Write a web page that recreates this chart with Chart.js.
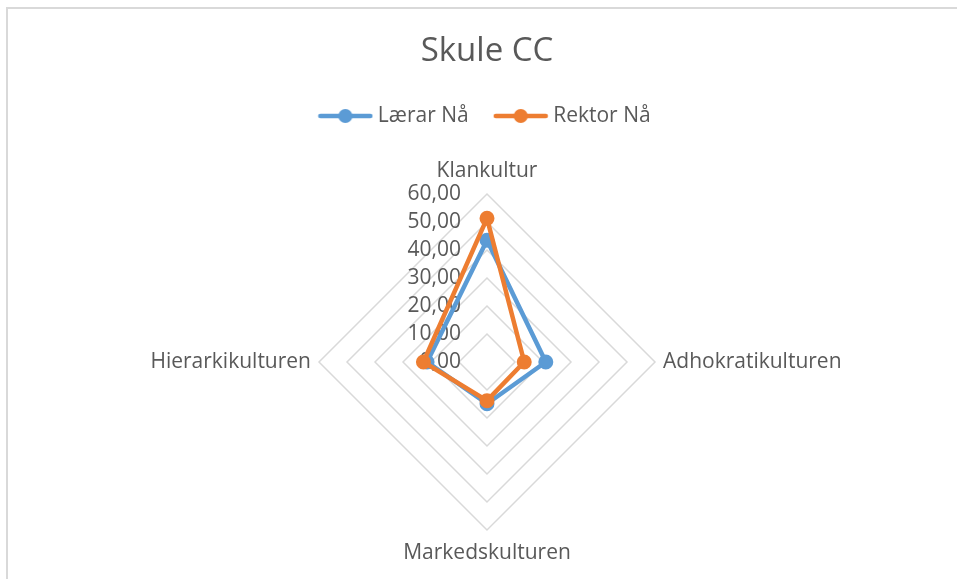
<!DOCTYPE html>
<html>
<head>
<meta charset="utf-8">
<title>Skule CC</title>
<script src="https://cdn.jsdelivr.net/npm/chart.js@4"></script>
<style>
  html, body { margin: 0; padding: 0; background: #fff; overflow: hidden; }
  .frame {
    position: absolute; left: 6px; top: 7px; width: 1000px; height: 700px;
    border-top: 2px solid #d9d9d9; border-left: 2px solid #d9d9d9;
  }
  #chart { position: absolute; left: 0; top: 0; }
</style>
</head>
<body>
<div class="frame"></div>
<canvas id="chart" width="957" height="579"></canvas>
<script>
'use strict';
// data
const categories = ['Klankultur', 'Adhokratikulturen', 'Markedskulturen', 'Hierarkikulturen'];
const laerarNa = [43.5, 21.0, 14.9, 21.4];
const rektorNa = [51.3, 13.3, 13.8, 22.7];
const tickValues = [0, 10, 20, 30, 40, 50, 60];

const textColor = '#595959';
const gridColor = '#d9d9d9';
const blue = '#5b9bd5';
const orange = '#ed7d31';
const fontFamily = '"Open Sans", Lato, sans-serif';
const labelSize = 21;
const legendHeight = 118.5; // pushes plot top down to y=191

const fmt = v => v.toFixed(2).replace('.', ',');

// line-with-dot icon for the legend, like Excel
const legendIcon = function (color) {
  const c = document.createElement('canvas');
  c.width = 56;
  c.height = 16;
  const g = c.getContext('2d');
  g.strokeStyle = color;
  g.lineWidth = 4.5;
  g.lineCap = 'round';
  g.beginPath();
  g.moveTo(3, 8);
  g.lineTo(53, 8);
  g.stroke();
  g.fillStyle = color;
  g.beginPath();
  g.arc(28, 8, 7, 0, Math.PI * 2);
  g.fill();
  return c;
};

// tick labels (incl. 0,00) and category labels drawn from the radial scale
const radarText = {
  id: 'radarText',
  beforeLayout(chart) {
    const legend = chart.legend;
    if (legend && !legend._patched) {
      const fit = legend.fit;
      legend.fit = function () {
        fit.call(this);
        this.height = legendHeight;
      };
      legend._patched = true;
    }
  },
  beforeDatasetsDraw(chart) {
    const scale = chart.scales.r;
    const ctx = chart.ctx;
    ctx.save();
    ctx.font = `${labelSize}px ${fontFamily}`;
    ctx.fillStyle = textColor;

    ctx.textAlign = 'right';
    ctx.textBaseline = 'middle';
    tickValues.forEach(v => {
      const d = scale.getDistanceFromCenterForValue(v);
      ctx.fillText(fmt(v), scale.xCenter - 26, scale.yCenter - d);
    });

    categories.forEach((label, i) => {
      const horiz = i % 2 === 1;
      const p = scale.getPointPosition(i, scale.drawingArea + (horiz ? 8 : 23));
      const cos = Math.cos(p.angle);
      ctx.textBaseline = 'middle';
      ctx.textAlign = horiz ? (cos > 0 ? 'left' : 'right') : 'center';
      ctx.fillText(label, p.x, p.y);
    });
    ctx.restore();
  },
};

const makeSet = (label, data, color, order) => ({
  label: label,
  data: data,
  borderColor: color,
  backgroundColor: color,
  pointBackgroundColor: color,
  pointBorderColor: color,
  borderWidth: 4.5,
  borderJoinStyle: 'round',
  pointRadius: 6,
  pointBorderWidth: 3,
  fill: false,
  order: order,
});

new Chart(document.getElementById('chart'), {
  type: 'radar',
  data: {
    labels: categories,
    datasets: [
      makeSet('Lærar Nå', laerarNa, blue, 2),
      makeSet('Rektor Nå', rektorNa, orange, 1),
    ],
  },
  options: {
    responsive: false,
    animation: false,
    layout: { padding: { left: 30, right: 13, top: 0, bottom: 48 } },
    scales: {
      r: {
        min: 0,
        max: 60,
        ticks: { stepSize: 10, display: false, showLabelBackdrop: false },
        grid: { color: gridColor, lineWidth: 1.5, circular: false },
        angleLines: { display: false },
        pointLabels: { display: false },
      },
    },
    plugins: {
      title: {
        display: true,
        text: 'Skule CC',
        color: textColor,
        font: { family: fontFamily, size: 33, weight: 'normal' },
        padding: { top: 32.2, bottom: 3.7 },
      },
      legend: {
        position: 'top',
        labels: {
          color: textColor,
          font: { family: fontFamily, size: labelSize },
          padding: 30,
          usePointStyle: true,
          pointStyleWidth: 44,
          generateLabels: chart =>
            chart.data.datasets.map((ds, i) => ({
              text: ds.label,
              pointStyle: legendIcon(ds.borderColor),
              fillStyle: ds.borderColor,
              strokeStyle: ds.borderColor,
              lineWidth: 0,
              fontColor: textColor,
              hidden: false,
              datasetIndex: i,
            })),
        },
      },
      tooltip: { enabled: false },
    },
  },
  plugins: [radarText],
});
</script>
</body>
</html>
